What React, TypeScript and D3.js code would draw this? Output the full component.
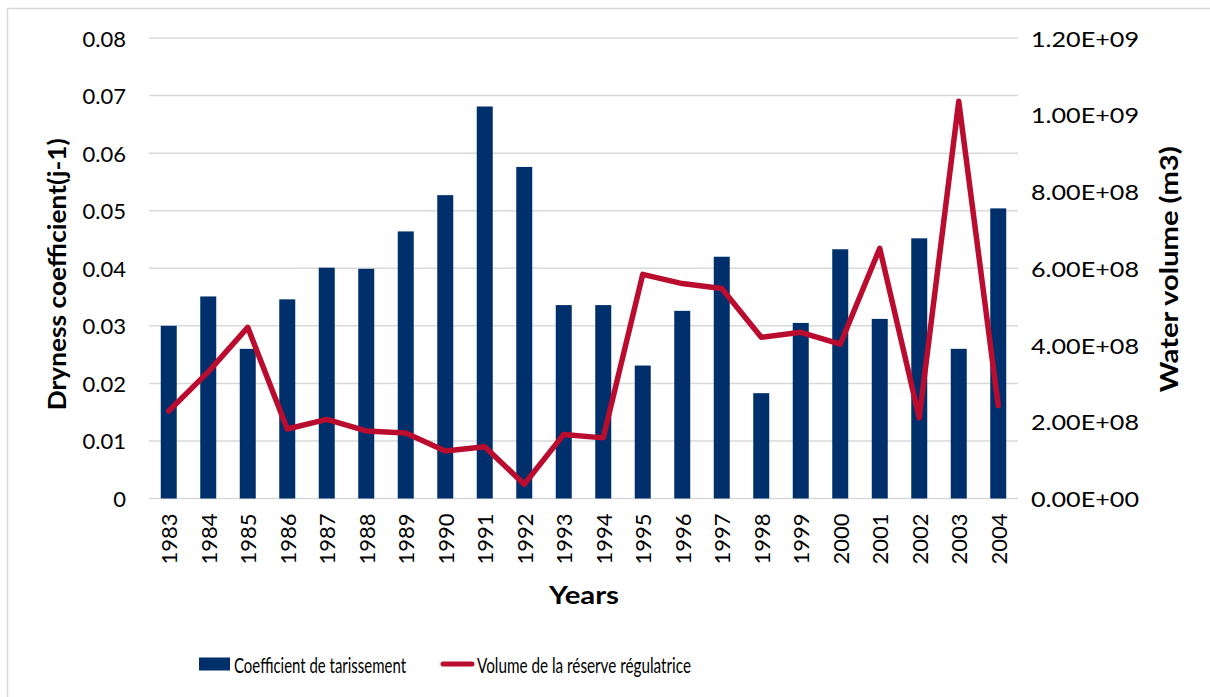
import React, { useEffect, useRef } from 'react';
import * as d3 from 'd3';

const years = ['1983', '1984', '1985', '1986', '1987', '1988', '1989', '1990', '1991', '1992', '1993',
  '1994', '1995', '1996', '1997', '1998', '1999', '2000', '2001', '2002', '2003', '2004'];

// Coefficient de tarissement (left axis)
const coefficient = [0.0300, 0.0351, 0.0260, 0.0346, 0.0401, 0.0399, 0.0464, 0.0527, 0.0681, 0.0576, 0.0336,
  0.0336, 0.0231, 0.0326, 0.0420, 0.0183, 0.0305, 0.0433, 0.0312, 0.0452, 0.0260, 0.0504];

// Volume de la réserve régulatrice (right axis, m3)
const volume = [2.28e8, 3.30e8, 4.46e8, 1.81e8, 2.06e8, 1.76e8, 1.71e8, 1.24e8, 1.35e8, 3.7e7, 1.67e8,
  1.58e8, 5.84e8, 5.60e8, 5.47e8, 4.20e8, 4.33e8, 4.02e8, 6.52e8, 2.10e8, 1.035e9, 2.42e8];

const leftTicks = [0, 0.01, 0.02, 0.03, 0.04, 0.05, 0.06, 0.07, 0.08];
const rightTicks = [0, 2e8, 4e8, 6e8, 8e8, 1e9, 1.2e9];

const W = 1210;
const H = 697;
const FONT = 'Lato, "Open Sans", sans-serif';
const BAR = '#00306b';
const LINE = '#ba0c2f';

export default function App() {
  const ref = useRef<SVGSVGElement>(null);

  useEffect(() => {
    const svg = d3.select(ref.current);
    svg.selectAll('*').remove();

    const margin = { top: 38, right: 192, bottom: 198.5, left: 149 };
    const pw = W - margin.left - margin.right;
    const ph = H - margin.top - margin.bottom;

    // chart border
    svg.append('rect').attr('x', 7.5).attr('y', 8.5).attr('width', W + 20).attr('height', H + 20)
      .attr('fill', 'white').attr('stroke', '#d9d9d9').attr('stroke-width', 1.5);

    const g = svg.append('g').attr('transform', `translate(${margin.left},${margin.top})`);

    const x = d3.scaleBand().domain(years).range([0, pw]).paddingInner(0.595).paddingOuter(0.2975);
    const yL = d3.scaleLinear().domain([0, 0.08]).range([ph, 0]);
    const yR = d3.scaleLinear().domain([0, 1.2e9]).range([ph, 0]);

    // gridlines
    g.append('g').selectAll('line').data(leftTicks).enter().append('line')
      .attr('x1', 0).attr('x2', pw)
      .attr('y1', d => yL(d)).attr('y2', d => yL(d))
      .attr('stroke', '#d9d9d9').attr('stroke-width', 1.5);

    // left tick labels
    g.append('g').selectAll('text').data(leftTicks).enter().append('text')
      .text(d => (d === 0 ? '0' : d.toFixed(2)))
      .attr('x', -23).attr('y', d => yL(d))
      .attr('text-anchor', 'end').attr('dominant-baseline', 'central')
      .attr('font-family', FONT).attr('font-size', 22).attr('fill', '#000');

    // right tick labels
    g.append('g').selectAll('text').data(rightTicks).enter().append('text')
      .text(d => {
        const e = d === 0 ? 0 : Math.floor(Math.log10(d));
        const m = d === 0 ? 0 : d / Math.pow(10, e);
        return `${m.toFixed(2)}E+${String(e).padStart(2, '0')}`;
      })
      .attr('x', pw + 13).attr('y', d => yR(d))
      .attr('textLength', 108).attr('lengthAdjust', 'spacingAndGlyphs')
      .attr('text-anchor', 'start').attr('dominant-baseline', 'central')
      .attr('font-family', FONT).attr('font-size', 22).attr('fill', '#000');

    // bars
    g.append('g').selectAll('rect').data(coefficient).enter().append('rect')
      .attr('x', (d, i) => x(years[i]) as number)
      .attr('width', x.bandwidth())
      .attr('y', d => yL(d))
      .attr('height', d => ph - yL(d))
      .attr('fill', BAR);

    // line
    const line = d3.line<number>()
      .x((d, i) => (x(years[i]) as number) + x.bandwidth() / 2)
      .y(d => yR(d));
    g.append('path').datum(volume).attr('d', line)
      .attr('fill', 'none').attr('stroke', LINE).attr('stroke-width', 5.5)
      .attr('stroke-linejoin', 'round').attr('stroke-linecap', 'round');

    // year labels
    g.append('g').selectAll('text').data(years).enter().append('text')
      .text(d => d)
      .attr('transform', d => `translate(${(x(d) as number) + x.bandwidth() / 2},${ph + 15}) rotate(-90)`)
      .attr('text-anchor', 'end').attr('dominant-baseline', 'central')
      .attr('font-family', FONT).attr('font-size', 22).attr('fill', '#000');

    // axis titles
    svg.append('text').text('Dryness coefficient(j-1)')
      .attr('transform', `translate(56,${margin.top + ph / 2 + 6}) rotate(-90)`)
      .attr('textLength', 272).attr('lengthAdjust', 'spacingAndGlyphs')
      .attr('text-anchor', 'middle').attr('dominant-baseline', 'central')
      .attr('font-family', FONT).attr('font-size', 24).attr('font-weight', 'bold');
    svg.append('text').text('Water volume (m3)')
      .attr('transform', `translate(1168,${margin.top + ph / 2 + 1}) rotate(-90)`)
      .attr('textLength', 246).attr('lengthAdjust', 'spacingAndGlyphs')
      .attr('text-anchor', 'middle').attr('dominant-baseline', 'central')
      .attr('font-family', FONT).attr('font-size', 24).attr('font-weight', 'bold');
    svg.append('text').text('Years')
      .attr('x', 584).attr('y', 594)
      .attr('textLength', 70).attr('lengthAdjust', 'spacingAndGlyphs')
      .attr('text-anchor', 'middle').attr('dominant-baseline', 'central')
      .attr('font-family', FONT).attr('font-size', 24).attr('font-weight', 'bold');

    // legend
    const lg = svg.append('g');
    lg.append('rect').attr('x', 199).attr('y', 657.5).attr('width', 31).attr('height', 13).attr('fill', BAR);
    lg.append('text').text('Coefficient de tarissement')
      .attr('x', 234).attr('y', 664).attr('dominant-baseline', 'central')
      .attr('textLength', 172).attr('lengthAdjust', 'spacingAndGlyphs')
      .attr('font-family', FONT).attr('font-size', 22);
    lg.append('line').attr('x1', 443).attr('x2', 472).attr('y1', 664).attr('y2', 664)
      .attr('stroke', LINE).attr('stroke-width', 5).attr('stroke-linecap', 'round');
    lg.append('text').text('Volume de la réserve régulatrice')
      .attr('x', 477).attr('y', 664).attr('dominant-baseline', 'central')
      .attr('textLength', 214).attr('lengthAdjust', 'spacingAndGlyphs')
      .attr('font-family', FONT).attr('font-size', 22);
  }, []);

  return (
    <svg ref={ref} width={W} height={H}
      style={{ position: 'absolute', left: 0, top: 0, display: 'block', background: 'white' }} />
  );
}
